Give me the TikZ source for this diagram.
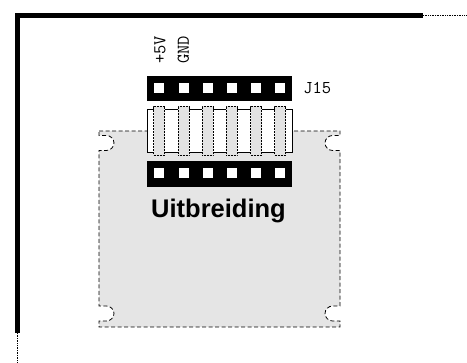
\documentclass[tikz,border=0pt]{standalone}
\usepackage{fontspec}
\setmainfont{Liberation Sans}
\usetikzlibrary{positioning}
\tikzset{hdr/.style = {fill, inner sep = 0, minimum width = 145, minimum height = 25}}
\tikzset{sq/.style = {fill = white, inner sep = 0, minimum size = 10}}
\tikzset{pin/.style = {draw, densely dotted, line width = 0.5, fill = gray!22, inner sep = 0, minimum width = 11, minimum height = 49}}
\tikzset{lbl/.style = {inner sep = 0, font = \fontsize{18}{18}\selectfont\ttfamily}}
\tikzset{frame/.style = {line width = 5}}
\tikzset{dots/.style = {densely dotted, line width = 0.7}}

\begin{document}
\begin{tikzpicture}[x = 1pt, y = -1pt]
      \useasboundingbox (0, 0) rectangle (467, 363);

      % housing edge
      \coordinate (tl) at (17.5, 15.5);
      \coordinate (tr) at (423, 15.5);
      \coordinate (bl) at (17.5, 333);
      \coordinate (tr2) at (467, 15.5);
      \coordinate (bl2) at (17.5, 363);
      \draw [frame] (bl) -- (tl) -- (tr);
      \draw [dots] (tr) -- (tr2);
      \draw [dots] (bl) -- (bl2);

      % expansion board
      \draw [dash pattern = on 4 off 2.5, line width = 0.8, fill = gray!20]
        (99, 131) -- (340, 131) -- (340, 135.5) -- (332.5, 135.5)
        .. controls (328.5, 135.5) and (325, 139) .. (325, 143)
        .. controls (325, 147) and (328.5, 150.5) .. (332.5, 150.5)
        -- (340, 150.5) -- (340, 306) -- (332.5, 306)
        .. controls (328.5, 306) and (325, 309.5) .. (325, 313.5)
        .. controls (325, 317.5) and (328.5, 321) .. (332.5, 321)
        -- (340, 321) -- (340, 327) -- (99, 327) -- (99, 321) -- (106.5, 321)
        .. controls (110.5, 321) and (114, 317.5) .. (114, 313.5)
        .. controls (114, 309.5) and (110.5, 306) .. (106.5, 306)
        -- (99, 306) -- (99, 150.5) -- (106.5, 150.5)
        .. controls (110.5, 150.5) and (114, 147) .. (114, 143)
        .. controls (114, 139) and (110.5, 135.5) .. (106.5, 135.5)
        -- (99, 135.5) -- cycle;

      % connector body and pins
      \node [draw, fill = white, line width = 0.8, inner sep = 0, minimum width = 145, minimum height = 43] (body) at (219.5, 130.5) {};
      \node [pin] (p1) at (159, 130.5) {};
      \node [pin] (p2) at (183.5, 130.5) {};
      \node [pin] (p3) at (207.5, 130.5) {};
      \node [pin] (p4) at (231.5, 130.5) {};
      \node [pin] (p5) at (256, 130.5) {};
      \node [pin] (p6) at (280, 130.5) {};

      % headers
      \node [hdr] (top) at (219.5, 88.5) {};
      \node [hdr, minimum height = 26] (bot) at (219.5, 174) {};
      \node [sq] (t1) at (159, 88) {};
      \node [sq] (t2) at (183.5, 88) {};
      \node [sq] (t3) at (207.5, 88) {};
      \node [sq] (t4) at (231.5, 88) {};
      \node [sq] (t5) at (256, 88) {};
      \node [sq] (t6) at (280, 88) {};
      \node [sq] (b1) at (159, 173.5) {};
      \node [sq] (b2) at (183.5, 173.5) {};
      \node [sq] (b3) at (207.5, 173.5) {};
      \node [sq] (b4) at (231.5, 173.5) {};
      \node [sq] (b5) at (256, 173.5) {};
      \node [sq] (b6) at (280, 173.5) {};

      % labels
      \node [lbl, rotate = 90, anchor = west] (vcc) at (160, 64) {+5V};
      \node [lbl, rotate = 90, anchor = west] (gnd) at (183.5, 64) {GND};
      \node [lbl, right = 11 of top] (j15) {J15};
      \node [anchor = base, inner sep = 0, font = \fontsize{25.5}{25.5}\selectfont\bfseries] (name) at (218.5, 218) {Uitbreiding};
    \end{tikzpicture}
\end{document}
